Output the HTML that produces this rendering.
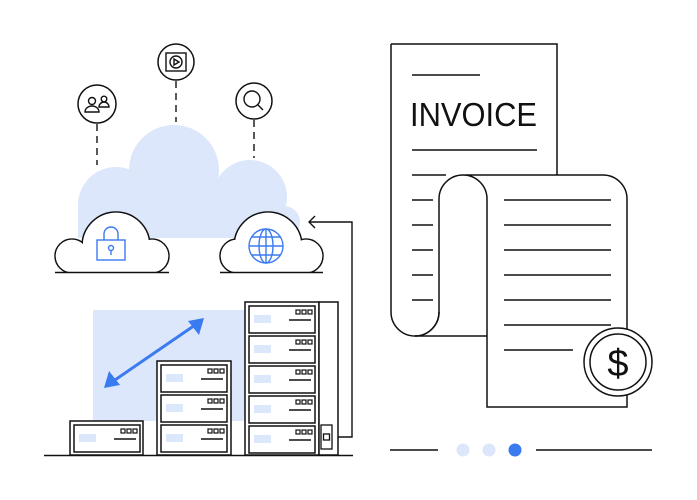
<!DOCTYPE html>
<html><head><meta charset="utf-8"><style>
html,body{margin:0;padding:0;background:#fff}
svg{display:block}
</style></head><body>
<svg width="697" height="500" viewBox="0 0 697 500" xmlns="http://www.w3.org/2000/svg">
<defs>
<g id="unit">
  <rect x="0" y="0" width="66" height="27" fill="#fff" stroke="#111" stroke-width="1.5"/>
  <rect x="5" y="9" width="17" height="8" fill="#dbe7fb"/>
  <rect x="47" y="4" width="4" height="4" fill="none" stroke="#111" stroke-width="1.2"/>
  <rect x="53" y="4" width="4" height="4" fill="none" stroke="#111" stroke-width="1.2"/>
  <rect x="59" y="4" width="4" height="4" fill="none" stroke="#111" stroke-width="1.2"/>
  <line x1="40" y1="14" x2="62" y2="14" stroke="#111" stroke-width="1.5"/>
</g>
<clipPath id="cl"><rect x="0" y="0" width="697" height="272"/></clipPath>
</defs>

<!-- big cloud -->
<g fill="#dce7fb">
  <circle cx="174" cy="170" r="45"/>
  <circle cx="116" cy="205" r="38"/>
  <circle cx="250" cy="197" r="37"/>
  <circle cx="284" cy="222" r="16"/>
  <rect x="116" y="190" width="168" height="48"/>
  <rect x="78" y="205" width="40" height="33"/>
</g>

<!-- dashed lines -->
<g stroke="#222" stroke-width="1.5" stroke-dasharray="7,5">
  <line x1="97" y1="124" x2="97" y2="165"/>
  <line x1="176" y1="81" x2="176" y2="122"/>
  <line x1="254" y1="120" x2="254" y2="158"/>
</g>
<!-- icons -->
<g fill="#fff" stroke="#111" stroke-width="1.5">
  <circle cx="97" cy="104" r="19"/>
  <circle cx="176" cy="62" r="18"/>
  <circle cx="254" cy="101" r="18"/>
</g>
<g fill="none" stroke="#111" stroke-width="1.4">
  <circle cx="92" cy="101" r="3.5"/>
  <path d="M85,112 a7,6 0 0 1 14,0 z"/>
  <circle cx="104" cy="99" r="2.8"/>
  <path d="M99,107 a5,5 0 0 1 10,0 z"/>
  <rect x="166" y="53" width="20" height="18"/>
  <circle cx="176" cy="62" r="6"/>
  <path d="M174,59 L179,62 L174,65 z"/>
  <circle cx="252" cy="99" r="8"/>
  <line x1="258" y1="105" x2="263" y2="110"/>
</g>

<!-- small clouds -->
<g clip-path="url(#cl)">
  <g fill="none" stroke="#111" stroke-width="1.5">
    <circle cx="116" cy="246" r="34"/><circle cx="72" cy="256" r="17"/><circle cx="152" cy="256" r="17"/>
    <circle cx="268" cy="246" r="34"/><circle cx="237" cy="256" r="17"/><circle cx="306" cy="256" r="17"/>
  </g>
  <g fill="#fff">
    <circle cx="116" cy="246" r="33.2"/><circle cx="72" cy="256" r="16.2"/><circle cx="152" cy="256" r="16.2"/>
    <rect x="72" y="250" width="80" height="30"/>
    <circle cx="268" cy="246" r="33.2"/><circle cx="237" cy="256" r="16.2"/><circle cx="306" cy="256" r="16.2"/>
    <rect x="237" y="250" width="69" height="30"/>
  </g>
</g>
<line x1="55" y1="272.5" x2="169" y2="272.5" stroke="#111" stroke-width="1.5"/>
<line x1="220" y1="272.5" x2="323" y2="272.5" stroke="#111" stroke-width="1.5"/>
<!-- lock -->
<g fill="none" stroke="#3b7bf0" stroke-width="1.4">
  <path d="M104,240 v-6 a7,7 0 0 1 14,0 v6"/>
  <rect x="97" y="240" width="28" height="20"/>
  <circle cx="111" cy="248" r="2.5"/>
  <line x1="111" y1="250" x2="111" y2="255"/>
</g>
<!-- globe -->
<g fill="none" stroke="#3b7bf0" stroke-width="1.4">
  <circle cx="266" cy="246" r="17"/>
  <ellipse cx="266" cy="246" rx="7" ry="17"/>
  <line x1="266" y1="229" x2="266" y2="263"/>
  <line x1="249" y1="246" x2="283" y2="246"/>
  <line x1="252" y1="237" x2="280" y2="237"/>
  <line x1="252" y1="255" x2="280" y2="255"/>
</g>

<!-- connector -->
<polyline points="332,437 352,437 352,222 309,222" fill="none" stroke="#111" stroke-width="1.4"/>
<polyline points="315,216 309,222 315,228" fill="none" stroke="#111" stroke-width="1.4"/>

<!-- blue bg rect -->
<rect x="93" y="310" width="152" height="111" fill="#dce7fb"/>
<!-- double arrow -->
<line x1="112" y1="382" x2="198" y2="323" stroke="#3b7bf0" stroke-width="3"/>
<path d="M204,318 L188,321 L199,335 z" fill="#3b7bf0"/>
<path d="M104,388 L120,385 L109,371 z" fill="#3b7bf0"/>

<!-- servers -->
<g fill="#fff" stroke="#111" stroke-width="1.5">
  <rect x="70" y="421" width="73" height="34"/>
  <rect x="157" y="361" width="74" height="94"/>
  <rect x="245" y="302" width="74" height="153"/>
  <rect x="319" y="302" width="19" height="153"/>
</g>
<use href="#unit" x="74" y="425"/>
<use href="#unit" x="161" y="365"/>
<use href="#unit" x="161" y="395"/>
<use href="#unit" x="161" y="425"/>
<use href="#unit" x="249" y="306"/>
<use href="#unit" x="249" y="336"/>
<use href="#unit" x="249" y="366"/>
<use href="#unit" x="249" y="396"/>
<use href="#unit" x="249" y="426"/>
<rect x="321" y="425" width="11" height="24" fill="#fff" stroke="#111" stroke-width="1.3"/>
<rect x="323.5" y="434" width="6" height="6" fill="none" stroke="#111" stroke-width="1.3"/>
<line x1="44" y1="455.5" x2="353" y2="455.5" stroke="#111" stroke-width="1.5"/>

<!-- invoice back page -->
<path d="M391,44 H557 V175" fill="#fff" stroke="#111" stroke-width="1.5"/>
<path d="M391,44 V312 a24,24 0 0 0 48,0" fill="none" stroke="#111" stroke-width="1.5"/>
<g stroke="#111" stroke-width="1.5">
  <line x1="412" y1="75" x2="480" y2="75"/>
  <line x1="412" y1="150" x2="537" y2="150"/>
  <line x1="412" y1="175" x2="446" y2="175"/>
  <line x1="412" y1="200" x2="433" y2="200"/>
  <line x1="412" y1="225" x2="433" y2="225"/>
  <line x1="412" y1="250" x2="433" y2="250"/>
  <line x1="412" y1="275" x2="433" y2="275"/>
  <line x1="412" y1="300" x2="433" y2="300"/>
</g>
<text x="410" y="126" font-family="'Liberation Sans',sans-serif" font-size="33" fill="#111" textLength="127" lengthAdjust="spacingAndGlyphs">INVOICE</text>
<!-- front sheet -->
<path d="M439,312 V199 a24,24 0 0 1 48,0 V407 H627 V199 a24,24 0 0 0 -24,-24 H463" fill="#fff" stroke="#111" stroke-width="1.5"/>
<path d="M415,336 H487" fill="none" stroke="#111" stroke-width="1.5"/>
<path d="M439,312 a24,24 0 0 1 -24,24" fill="none" stroke="#111" stroke-width="1.5"/>
<g stroke="#111" stroke-width="1.5">
  <line x1="504" y1="200" x2="611" y2="200"/>
  <line x1="504" y1="225" x2="611" y2="225"/>
  <line x1="504" y1="250" x2="611" y2="250"/>
  <line x1="504" y1="275" x2="611" y2="275"/>
  <line x1="504" y1="300" x2="611" y2="300"/>
  <line x1="504" y1="325" x2="611" y2="325"/>
  <line x1="504" y1="350" x2="573" y2="350"/>
</g>
<circle cx="618" cy="362" r="34" fill="#fff" stroke="#111" stroke-width="1.5"/>
<circle cx="618" cy="362" r="28" fill="#fff" stroke="#111" stroke-width="1.5"/>
<text x="618" y="376" text-anchor="middle" font-family="'Liberation Sans',sans-serif" font-size="38" fill="#111">$</text>

<!-- bottom pager -->
<line x1="390" y1="450" x2="438" y2="450" stroke="#111" stroke-width="1.5"/>
<line x1="536" y1="450" x2="652" y2="450" stroke="#111" stroke-width="1.5"/>
<circle cx="463" cy="450" r="6.5" fill="#dce7fb"/>
<circle cx="489" cy="450" r="6.5" fill="#dce7fb"/>
<circle cx="515" cy="450" r="6.5" fill="#3b7bf0"/>
</svg>
</body></html>
